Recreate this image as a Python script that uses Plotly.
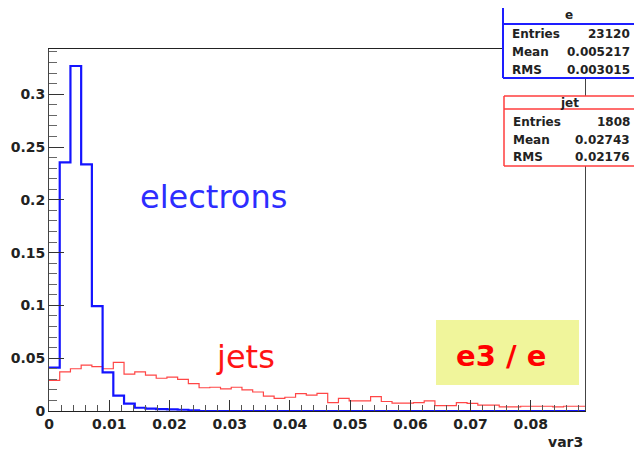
import numpy as np
import plotly.graph_objects as go

# ---- histogram data (normalised), 50 bins on [0, 0.089] ----
x_min, x_max, n_bins = 0.0, 0.089, 50

electrons = [0.041, 0.2355, 0.3267, 0.2336, 0.0994, 0.0366, 0.0145, 0.0069, 0.0031, 0.0022,
             0.0018, 0.0015, 0.0012, 0.0006, 0.0, 0.0, 0.0, 0.0, 0.0, 0.0,
             0.0, 0.0, 0.0, 0.0, 0.0, 0.0, 0.0, 0.0, 0.0, 0.0,
             0.0, 0.0, 0.0, 0.0, 0.0, 0.0, 0.0, 0.0, 0.0, 0.0,
             0.0, 0.0, 0.0, 0.0, 0.0, 0.0, 0.0, 0.0, 0.0, 0.0]

jets = [0.029, 0.037, 0.040, 0.0435, 0.042, 0.040, 0.046, 0.035, 0.037, 0.034,
        0.031, 0.032, 0.030, 0.026, 0.022, 0.0225, 0.021, 0.0225, 0.020, 0.018,
        0.014, 0.012, 0.013, 0.0165, 0.015, 0.0167, 0.008, 0.012, 0.0095, 0.0095,
        0.0136, 0.009, 0.0075, 0.0075, 0.008, 0.0095, 0.005, 0.005, 0.008, 0.0072,
        0.0055, 0.0055, 0.004, 0.004, 0.0045, 0.0045, 0.0045, 0.004, 0.0045, 0.0045]

x_tick_vals = [0, 0.01, 0.02, 0.03, 0.04, 0.05, 0.06, 0.07, 0.08]
x_tick_text = ["0", "0.01", "0.02", "0.03", "0.04", "0.05", "0.06", "0.07", "0.08"]
y_tick_vals = [0, 0.05, 0.1, 0.15, 0.2, 0.25, 0.3]
y_tick_text = ["0", "0.05", "0.1", "0.15", "0.2", "0.25", "0.3"]

stat_labels = ["Entries", "Mean", "RMS"]
e_stats = ["23120", "0.005217", "0.003015"]
jet_stats = ["1808", "0.02743", "0.02176"]

# ---- page geometry (pixels) ----
W, H = 634, 451
L, R, T, B = 49, 585, 49, 411


def fx(px):
    return (px - L) / (R - L)


def fy(py):
    return (B - py) / (B - T)


edges = np.linspace(x_min, x_max, n_bins + 1)


def step_xy(vals):
    v = np.asarray(vals, dtype=float)
    return edges, np.append(v, v[-1])


FONT = "DejaVu Sans"
fig = go.Figure()

xj, yj = step_xy(jets)
fig.add_trace(go.Scatter(x=xj, y=yj, mode="lines", line_shape="hv",
                         line=dict(color="rgb(255,70,70)", width=1.2),
                         hoverinfo="skip", cliponaxis=True))
xe, ye = step_xy(electrons)
fig.add_trace(go.Scatter(x=xe, y=ye, mode="lines", line_shape="hv",
                         line=dict(color="rgb(20,20,255)", width=2.2),
                         hoverinfo="skip", cliponaxis=False))

tickfont = dict(family=FONT, size=14, color="#222", weight="bold")

fig.update_xaxes(range=[x_min, x_max], tickmode="array", tickvals=x_tick_vals,
                 ticktext=x_tick_text, ticks="inside", ticklen=11, tickcolor="#333",
                 tickwidth=1, showline=True, linecolor="#222", linewidth=1,
                 mirror=True, showgrid=False, zeroline=False, tickfont=tickfont,
                 minor=dict(tick0=0, dtick=0.002, ticks="inside", ticklen=6,
                            tickcolor="#555", showgrid=False))
fig.update_yaxes(range=[0, 0.3428], tickmode="array", tickvals=y_tick_vals,
                 ticktext=y_tick_text, ticks="inside", ticklen=15, tickcolor="#333",
                 tickwidth=1, showline=True, linecolor="#444", linewidth=1,
                 mirror=True, showgrid=False, zeroline=False, tickfont=tickfont,
                 minor=dict(tick0=0, dtick=0.01, ticks="inside", ticklen=8,
                            tickcolor="#666", showgrid=False))

shapes = []
annotations = []

# yellow label box
shapes.append(dict(type="rect", xref="paper", yref="paper",
                   x0=fx(436), x1=fx(579), y0=fy(385), y1=fy(320),
                   fillcolor="rgb(240,245,155)", line=dict(width=0), layer="above"))
annotations.append(dict(text="e3 / e", xref="paper", yref="paper", x=fx(501), y=fy(356),
                        showarrow=False, xanchor="center", yanchor="middle",
                        font=dict(family=FONT, size=29, color="#ff0000", weight="bold")))

annotations.append(dict(text="electrons", xref="paper", yref="paper", x=fx(213), y=fy(197),
                        showarrow=False, xanchor="center", yanchor="middle",
                        font=dict(family=FONT, size=32, color="rgb(45,45,255)")))
annotations.append(dict(text="jets", xref="paper", yref="paper", x=fx(245), y=fy(357),
                        showarrow=False, xanchor="center", yanchor="middle",
                        font=dict(family=FONT, size=32, color="rgb(255,20,20)")))

annotations.append(dict(text="var3", xref="paper", yref="paper", x=1.0, y=fy(442),
                        showarrow=False, xanchor="right", yanchor="middle",
                        font=dict(family=FONT, size=14, color="#222", weight="bold")))


def seg(x0, y0, x1, y1, color, width):
    shapes.append(dict(type="line", xref="paper", yref="paper",
                       x0=fx(x0), x1=fx(x1), y0=fy(y0), y1=fy(y1),
                       line=dict(color=color, width=width), layer="above"))


def stats_box(name, values, color, width, left, top, head_line, bottom, row_y, head_y,
              top_edge=True):
    right = 636
    shapes.append(dict(type="rect", xref="paper", yref="paper",
                       x0=fx(left), x1=fx(right), y0=fy(bottom), y1=fy(top),
                       fillcolor="white", line=dict(width=0), layer="above"))
    seg(left, top, left, bottom, color, width)
    seg(right, top, right, bottom, color, width)
    seg(left, bottom, right, bottom, color, width)
    seg(left, head_line, right, head_line, color, width)
    if top_edge:
        seg(left, top, right, top, color, width)
    sfont = dict(family=FONT, size=12, color="#222", weight="bold")
    annotations.append(dict(text=name, xref="paper", yref="paper",
                            x=fx((left + right) / 2 - 1), y=fy(head_y), showarrow=False,
                            xanchor="center", yanchor="middle", font=sfont))
    for lab, val, yy in zip(stat_labels, values, row_y):
        annotations.append(dict(text=lab, xref="paper", yref="paper", x=fx(left + 7),
                                y=fy(yy), showarrow=False, xanchor="left",
                                yanchor="middle", font=sfont))
        annotations.append(dict(text=val, xref="paper", yref="paper", x=fx(632),
                                y=fy(yy), showarrow=False, xanchor="right",
                                yanchor="middle", font=sfont))


stats_box("e", e_stats, "rgb(30,30,255)", 2, 503, 8, 24, 78, [34, 52, 70], 15,
          top_edge=False)
stats_box("jet", jet_stats, "rgb(255,60,60)", 1.5, 504, 96, 109, 166, [122, 140, 157], 103)

fig.update_layout(width=W, height=H, margin=dict(l=L, r=W - R, t=T, b=H - B, pad=0),
                  paper_bgcolor="white", plot_bgcolor="white", showlegend=False,
                  shapes=shapes, annotations=annotations)

fig.write_html("out.html")
